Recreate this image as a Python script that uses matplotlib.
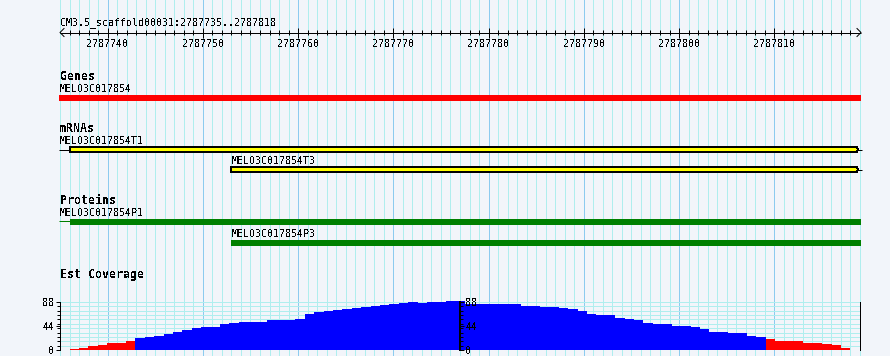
import numpy as np
import matplotlib
matplotlib.use("Agg")
import matplotlib.pyplot as plt
from matplotlib.patches import Rectangle, Polygon

# ---------------- data ----------------
ref_name = "CM3.5_scaffold00031"
view_start, view_end = 2787735, 2787818
ruler_labels = [2787740, 2787750, 2787760, 2787770, 2787780, 2787790, 2787800, 2787810]

gene_names = ["MELO3C017854"]
gene_starts = [2787735]          # visible part of the gene
gene_ends = [2787819]

mrna_names = ["MELO3C017854T1", "MELO3C017854T3"]
mrna_starts = [2787736, 2787753]
mrna_ends = [2787819, 2787819]
mrna_lead_starts = [2787735, None]

protein_names = ["MELO3C017854P1", "MELO3C017854P3"]
protein_starts = [2787736, 2787753]
protein_ends = [2787819, 2787819]
protein_lead_starts = [2787735, None]

cov_start, cov_end = 2787736, 2787818
coverage = [2, 4, 7, 9, 14, 14, 16, 22, 24, 26, 30, 34, 37, 41, 43, 43, 48, 50, 52, 52,
            52, 54, 54, 55, 57, 66, 69, 71, 73, 75, 77, 79, 81, 82, 84, 86, 88, 86, 88, 88,
            90, 90, 84, 84, 84, 84, 84, 84, 81, 81, 79, 79, 77, 75, 71, 66, 64, 64, 59, 57,
            55, 50, 48, 48, 44, 44, 43, 39, 34, 34, 32, 32, 26, 24, 20, 17, 17, 16, 14, 14,
            12, 10, 5]
cov_max = 88
cov_low = 21

# ---------------- style ----------------
plt.rcParams["font.family"] = ["DejaVu Sans Mono"]
plt.rcParams["patch.antialiased"] = False
plt.rcParams["text.antialiased"] = False
BG = "#f2f5fa"
GRID_MINOR = "#afeeee"
GRID_MAJOR = "#8ccbef"
FS = 7.2
FSB = 8.4
LW = 0.72   # one pixel

W, H = 890, 356
PANEL_L, PANEL_W = 60, 800
scale = PANEL_W / (view_end + 1 - view_start)   # pixels per base
px = 1.0 / scale                                  # one pixel in bases
xlim = (view_start - PANEL_L * px, view_start + (W - PANEL_L) * px)

fig = plt.figure(figsize=(W / 100, H / 100), dpi=100, facecolor=BG)
ax = fig.add_axes([0, 0, 1, 1])
ax.set_facecolor(BG)
ax.set_xlim(*xlim)
ax.set_ylim(H, 0)
ax.axis("off")

# vertical grid
for b in range(view_start, view_end + 2):
    ax.axvline(b, color=GRID_MAJOR if b % 10 == 0 else GRID_MINOR, lw=LW, zorder=0)

# ruler
ry = 32.5
x_left, x_right = view_start, view_end + 1 + px
ax.text(view_start, 25, f"{ref_name}:{view_start}..{view_end}", fontsize=FS,
        ha="left", va="baseline")
ax.hlines(ry, x_left, x_right, color="black", lw=LW)
ax.plot([x_left + 4 * px, x_left, x_left + 4 * px], [ry - 4, ry, ry + 4], color="black", lw=LW)
ax.plot([x_right - 4 * px, x_right, x_right - 4 * px], [ry - 4, ry, ry + 4], color="black", lw=LW)
ax.vlines(np.arange(view_start + 1, view_end + 1), ry - 2.5, ry + 2.5, color="black", lw=LW)
ax.vlines(ruler_labels, ry - 5, ry + 5, color="black", lw=LW)
for b in ruler_labels:
    ax.text(b, 46.7, str(b), fontsize=FS, ha="center", va="baseline")

def track_label(text, y):
    ax.text(view_start, y, text, fontsize=FSB, fontweight="bold", ha="left", va="baseline")

def name_label(text, x, y):
    ax.text(x, y, text, fontsize=FS, ha="left", va="baseline")

# Genes
track_label("Genes", 80)
for name, s, e in zip(gene_names, gene_starts, gene_ends):
    name_label(name, view_start, 91.7)
    ax.add_patch(Rectangle((s - px, 95), e - s + 2 * px, 6, color="#ff0000", lw=0, zorder=3))

# mRNAs
track_label("mRNAs", 131.7)
mrna_rows = [(144, 147), (164, 167)]
for name, s, e, lead, (ty, by) in zip(mrna_names, mrna_starts, mrna_ends, mrna_lead_starts, mrna_rows):
    name_label(name, s if lead is None else lead, ty)
    mid = by + 2.5
    if lead is not None:
        ax.hlines(mid, lead - px, s, color="black", lw=LW, zorder=3)
    tip = e - 2 * px
    poly = Polygon([(s, by), (tip - 1 * px, by), (tip, mid), (tip - 1 * px, by + 5), (s, by + 5)],
                   closed=True, facecolor="#ffff00", edgecolor="black", lw=LW, zorder=4)
    ax.add_patch(poly)
    ax.hlines(mid, tip, e + 1.5 * px, color="black", lw=LW, zorder=3)

# Proteins
track_label("Proteins", 204)
prot_rows = [(215.7, 219), (236.7, 240)]
for name, s, e, lead, (ty, by) in zip(protein_names, protein_starts, protein_ends, protein_lead_starts, prot_rows):
    name_label(name, s if lead is None else lead, ty)
    if lead is not None:
        ax.hlines(by + 2, lead - px, s, color="#008000", lw=LW, zorder=3)
    ax.add_patch(Rectangle((s, by), e - s + 1.5 * px, 6, color="#008000", lw=0, zorder=3))

# Est coverage
track_label("Est Coverage", 278.3)
zero_y, top_y = 350.3, 301.7
cax = fig.add_axes([0, (H - zero_y) / H, 1, (zero_y - top_y) / H])
cax.set_xlim(*xlim)
cax.set_ylim(0, cov_max)
cax.patch.set_visible(False)
cax.xaxis.set_visible(False)
cax.hlines(np.arange(0, cov_max + 1, 8), view_start, view_end + 1, color=GRID_MINOR, lw=LW, zorder=0.5)
edges = np.linspace(cov_start, cov_end, len(coverage) + 1)
colors = ["#ff0000" if v < cov_low else "#0000ff" for v in coverage]
cax.bar(edges[:-1], coverage, width=np.diff(edges), align="edge", color=colors,
        lw=0, clip_on=False, zorder=2)

for sp in ("top", "bottom"):
    cax.spines[sp].set_visible(False)
cax.spines["left"].set_position(("data", view_start))
cax.spines["right"].set_position(("data", view_end + 1))
for sp in ("left", "right"):
    cax.spines[sp].set_linewidth(LW)
cax.set_yticks([0, 44, 88])
cax.set_yticks(np.arange(0, cov_max + 1, 8), minor=True)
cax.tick_params(axis="y", which="both", left=True, right=True, labelleft=True,
                labelright=True, direction="out", width=LW, labelsize=FS, pad=0.8)
cax.tick_params(axis="y", which="major", length=3.2)
cax.tick_params(axis="y", which="minor", length=2.4)

mid_axis = cax.twinx()
mid_axis.set_ylim(0, cov_max)
mid_axis.patch.set_visible(False)
for sp in ("top", "bottom", "left"):
    mid_axis.spines[sp].set_visible(False)
mid_axis.spines["right"].set_position(("data", (view_start + view_end + 1) / 2))
mid_axis.spines["right"].set_linewidth(1.4)
mid_axis.spines["right"].set_zorder(5)
mid_axis.set_yticks([0, 44, 88])
mid_axis.set_yticks(np.arange(0, cov_max + 1, 8), minor=True)
mid_axis.tick_params(axis="y", which="both", right=True, labelright=True, direction="out",
                     width=LW, labelsize=FS, pad=0.8)
mid_axis.tick_params(axis="y", which="major", length=3.2)
mid_axis.tick_params(axis="y", which="minor", length=2.4)

fig.savefig("out.png", dpi=100, facecolor=BG)
